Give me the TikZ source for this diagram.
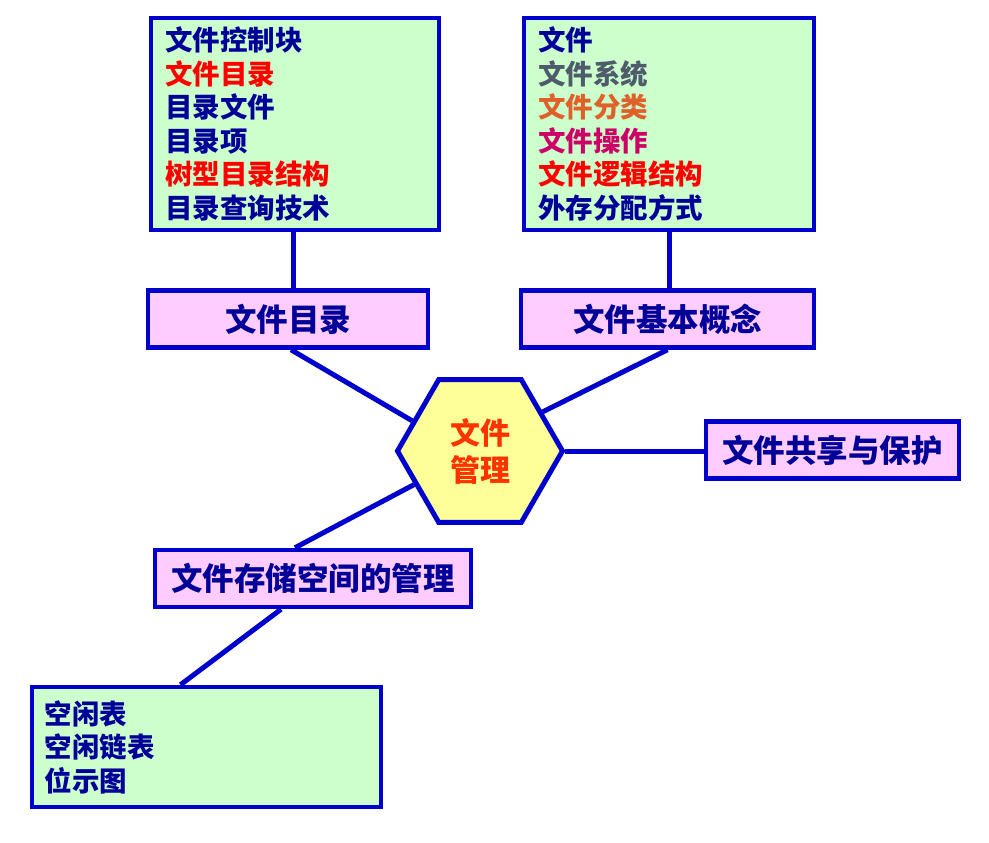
\documentclass[tikz,border=0pt]{standalone}
\usepackage{fontspec}
\newfontfamily\cjk{Noto Sans CJK SC}
\usetikzlibrary{shapes.geometric,calc}
\definecolor{edgeblue}{HTML}{0000CC}
\definecolor{listgreen}{HTML}{CCFFCC}
\definecolor{tagpink}{HTML}{FFCCFF}
\definecolor{hexyellow}{HTML}{FFFF99}
\definecolor{txtnavy}{HTML}{000099}
\definecolor{txtslate}{HTML}{4D5B6B}
\definecolor{txtorange}{HTML}{E0602A}
\definecolor{txtplum}{HTML}{CC0066}
\definecolor{hexred}{HTML}{FF3300}

\begin{document}
\begin{tikzpicture}[x=1pt,y=-1pt,
  lst/.style={draw=edgeblue,fill=listgreen,line width=4.5pt,align=left,inner sep=0pt,text=txtnavy,font=\cjk\bfseries\fontsize{27.5}{33.5}\selectfont},
  tag/.style={draw=edgeblue,fill=tagpink,line width=4.5pt,minimum height=57pt,align=center,inner sep=0pt,text=txtnavy,font=\cjk\bfseries\fontsize{31.5}{36}\selectfont},
  hexa/.style={regular polygon,regular polygon sides=6,minimum size=165pt,draw=edgeblue,fill=hexyellow,line width=5pt,inner sep=0pt,align=center,text=hexred,font=\cjk\bfseries\fontsize{30}{37}\selectfont},
  ln/.style={draw=edgeblue,line width=5pt}
]
\useasboundingbox (0,0) rectangle (989,843);

\node[hexa] (hex) at (480,451) {文件\\管理};

\node[lst,minimum width=288pt,minimum height=212pt,text width=260pt] (ctl) at (295,124)
  {文件控制块\\ \textcolor{red}{文件目录}\\ 目录文件\\ 目录项\\ \textcolor{red}{树型目录结构}\\ 目录查询技术};
\node[lst,minimum width=290pt,minimum height=212pt,text width=262pt] (con) at (669,124)
  {文件\\ \textcolor{txtslate}{文件系统}\\ \textcolor{txtorange}{文件分类}\\ \textcolor{txtplum}{文件操作}\\ \textcolor{red}{文件逻辑结构}\\ 外存分配方式};
\node[lst,minimum width=349pt,minimum height=120pt,text width=323pt] (free) at (206.5,747)
  {空闲表\\ 空闲链表\\ 位示图};

\node[tag,minimum width=280pt] (dir) at (288,319) {文件目录};
\node[tag,minimum width=293pt] (basic) at (667.5,319) {文件基本概念};
\node[tag,minimum width=253pt] (share) at (832.5,450) {文件共享与保护};
\node[tag,minimum width=316pt] (store) at (313,578.5) {文件存储空间的管理};

\draw[ln] ([xshift=-2pt]ctl.south) -- ([xshift=-2pt]ctl.south |- dir.north);
\draw[ln] (con.south) -- (con.south |- basic.north);
\draw[ln] ([xshift=3pt]dir.south) -- (hex.156);
\draw[ln] (basic.south) -- (hex.32);
\draw[ln] (hex.0) -- (hex.0 -| share.west);
\draw[ln] (hex.207) -- ([xshift=-18pt]store.north);
\draw[ln] ([xshift=-32pt]store.south) -- ([xshift=-26pt]free.north);
\end{tikzpicture}
\end{document}
